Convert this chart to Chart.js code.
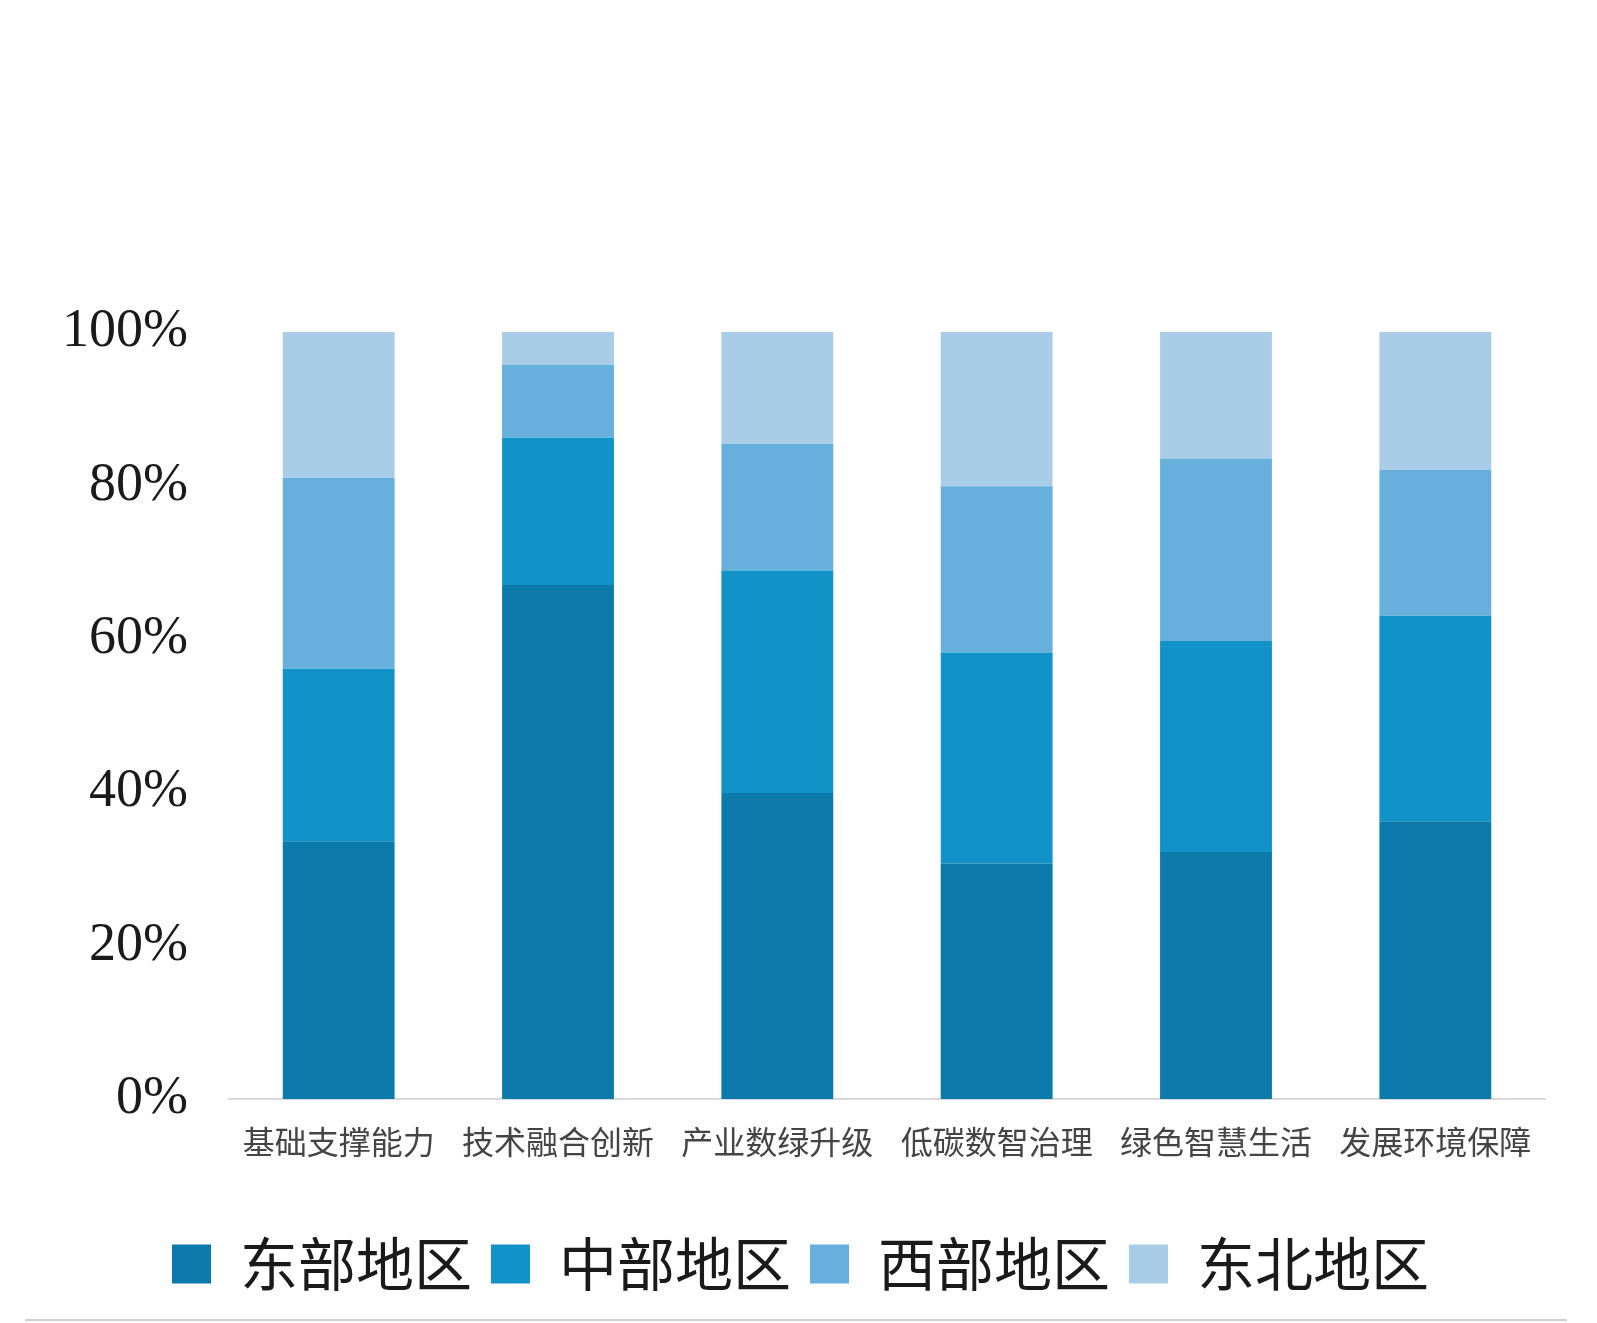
<!DOCTYPE html>
<html>
<head>
<meta charset="utf-8">
<script src="https://cdn.jsdelivr.net/npm/chart.js@4"></script>
<style>
  html, body { margin: 0; padding: 0; background: #ffffff; }
  #wrap { position: relative; width: 1597px; height: 1323px; }
  #bottomLine { position: absolute; left: 25px; right: 30px; top: 1319px; height: 2px; background: #cfcfcf; }
</style>
</head>
<body>
<div id="wrap">
  <canvas id="c" width="1597" height="1323"></canvas>
  <div id="bottomLine"></div>
</div>
<script>
const categories = ['基础支撑能力', '技术融合创新', '产业数绿升级', '低碳数智治理', '绿色智慧生活', '发展环境保障'];
const seriesNames = ['东部地区', '中部地区', '西部地区', '东北地区'];
const eastValues      = [33.6, 67.0, 39.9, 30.7, 32.2, 36.2];
const centralValues   = [22.5, 19.2, 29.0, 27.5, 27.5, 26.8];
const westValues      = [24.9,  9.5, 16.5, 21.7, 23.8, 19.0];
const northeastValues = [19.0,  4.3, 14.6, 20.1, 16.5, 18.0];
const yTicks = [0, 20, 40, 60, 80, 100];
const colors = ['#0c7aaa', '#1193c8', '#67b0dd', '#a9cce7'];

const seriesValues = [eastValues, centralValues, westValues, northeastValues];

const chart = new Chart(document.getElementById('c'), {
  type: 'bar',
  data: {
    labels: categories,
    datasets: seriesValues.map((vals, i) => ({
      label: seriesNames[i],
      data: vals,
      backgroundColor: colors[i],
      borderWidth: 0,
      categoryPercentage: 1,
      barPercentage: 0.51
    }))
  },
  options: {
    responsive: false,
    animation: false,
    layout: { padding: { top: 332, right: 52, bottom: 20, left: 56 } },
    plugins: {
      tooltip: { enabled: false },
      legend: {
        position: 'bottom',
        labels: {
          boxWidth: 39,
          boxHeight: 39,
          padding: 19,
          color: '#1a1a1a',
          font: { family: '"Noto Sans CJK SC", sans-serif', size: 58 }
        }
      }
    },
    scales: {
      x: {
        stacked: true,
        grid: { display: false, drawTicks: false },
        border: { display: true, color: '#d9d9d9', width: 2 },
        ticks: {
          color: '#444444',
          padding: 24,
          maxRotation: 0,
          autoSkip: false,
          font: { family: '"Noto Sans CJK SC", sans-serif', size: 32 }
        },
        afterFit: (scale) => { scale.height = 117; }
      },
      y: {
        stacked: true,
        min: 0,
        max: 100,
        grid: { display: false, drawTicks: false },
        border: { display: false },
        afterBuildTicks: (scale) => { scale.ticks = yTicks.map(v => ({ value: v })); },
        ticks: {
          color: '#1a1a1a',
          padding: 41,
          font: { family: '"Liberation Serif", "Times New Roman", serif', size: 54 },
          callback: (v) => v + '%'
        },
        afterFit: (scale) => { scale.width = 173; }
      }
    }
  }
});
</script>
</body>
</html>
